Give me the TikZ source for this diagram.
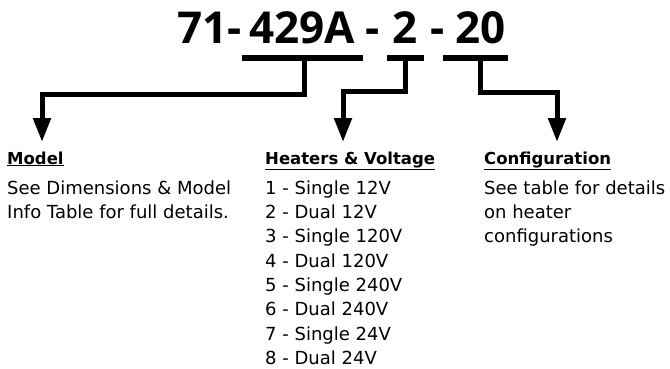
\documentclass[tikz,border=0pt]{standalone}
\usepackage{fontspec}
\setmainfont{DejaVu Sans}
\newfontfamily\codefont{Open Sans}
\usetikzlibrary{arrows.meta,positioning}

\tikzset{
  bar/.style={line width=6pt},
  lead/.style={line width=5pt, -{Triangle[width=17pt,length=24pt]}},
  seg/.style={anchor=base west, inner sep=0pt, font=\codefont\fontsize{44}{44}\selectfont\bfseries},
  head/.style={anchor=base west, inner sep=0pt, font=\fontsize{16.5}{24.3}\selectfont\bfseries},
  body/.style={anchor=north west, inner sep=0pt, align=left, font=\fontsize{18}{24.3}\selectfont}
}
\newcommand{\firstline}{\rule{0pt}{14pt}}

\begin{document}
\begin{tikzpicture}[x=1pt, y=-1pt]
  \useasboundingbox (0,0) rectangle (670,368);

  % Part number, one node per group
  \node[seg] (n71)  at (177,43) {71-};
  \node[seg] (n429) at (249,43) {429A};
  \node[seg] (d1)   at (365,43) {-};
  \node[seg] (n2)   at (392,43) {2};
  \node[seg] (d2)   at (430,43) {-};
  \node[seg] (n20)  at (455,43) {20};

  % Bars under the groups
  \coordinate (mA) at (242,58);  \coordinate (mB) at (363,58);
  \coordinate (hA) at (387,58);  \coordinate (hB) at (424,58);
  \coordinate (cA) at (443,58);  \coordinate (cB) at (508,58);
  \coordinate (mS) at (304,58);
  \coordinate (hS) at (405,58);
  \coordinate (cS) at (480,58);
  \draw[bar] (mA) -- (mB);
  \draw[bar] (hA) -- (hB);
  \draw[bar] (cA) -- (cB);

  % Labels
  \node[head] (model) at (7,164) {\underline{Model}};
  \node[body] (modeltxt) at (7,180)
    {\firstline See Dimensions \& Model\\Info Table for full details.};

  \node[head] (heat) at (265,164) {\underline{Heaters \& Voltage}};
  \node[body] (heattxt) at (265,180)
    {\firstline 1 - Single 12V\\2 - Dual 12V\\3 - Single 120V\\4 - Dual 120V\\
     5 - Single 240V\\6 - Dual 240V\\7 - Single 24V\\8 - Dual 24V};

  \node[head] (conf) at (484,164) {\underline{Configuration}};
  \node[body] (conftxt) at (484,180)
    {\firstline See table for details\\on heater\\configurations};

  % Arrow tips
  \coordinate (mtip) at (42,142);
  \coordinate (htip) at (343,142);
  \coordinate (ctip) at (557,142);

  % Connect
  \draw[lead] (mS) |- (mtip |- 0,94) -- (mtip);
  \draw[lead] (hS) |- (htip |- 0,91) -- (htip);
  \draw[lead] (cS) |- (ctip |- 0,92) -- (ctip);

\end{tikzpicture}
\end{document}
